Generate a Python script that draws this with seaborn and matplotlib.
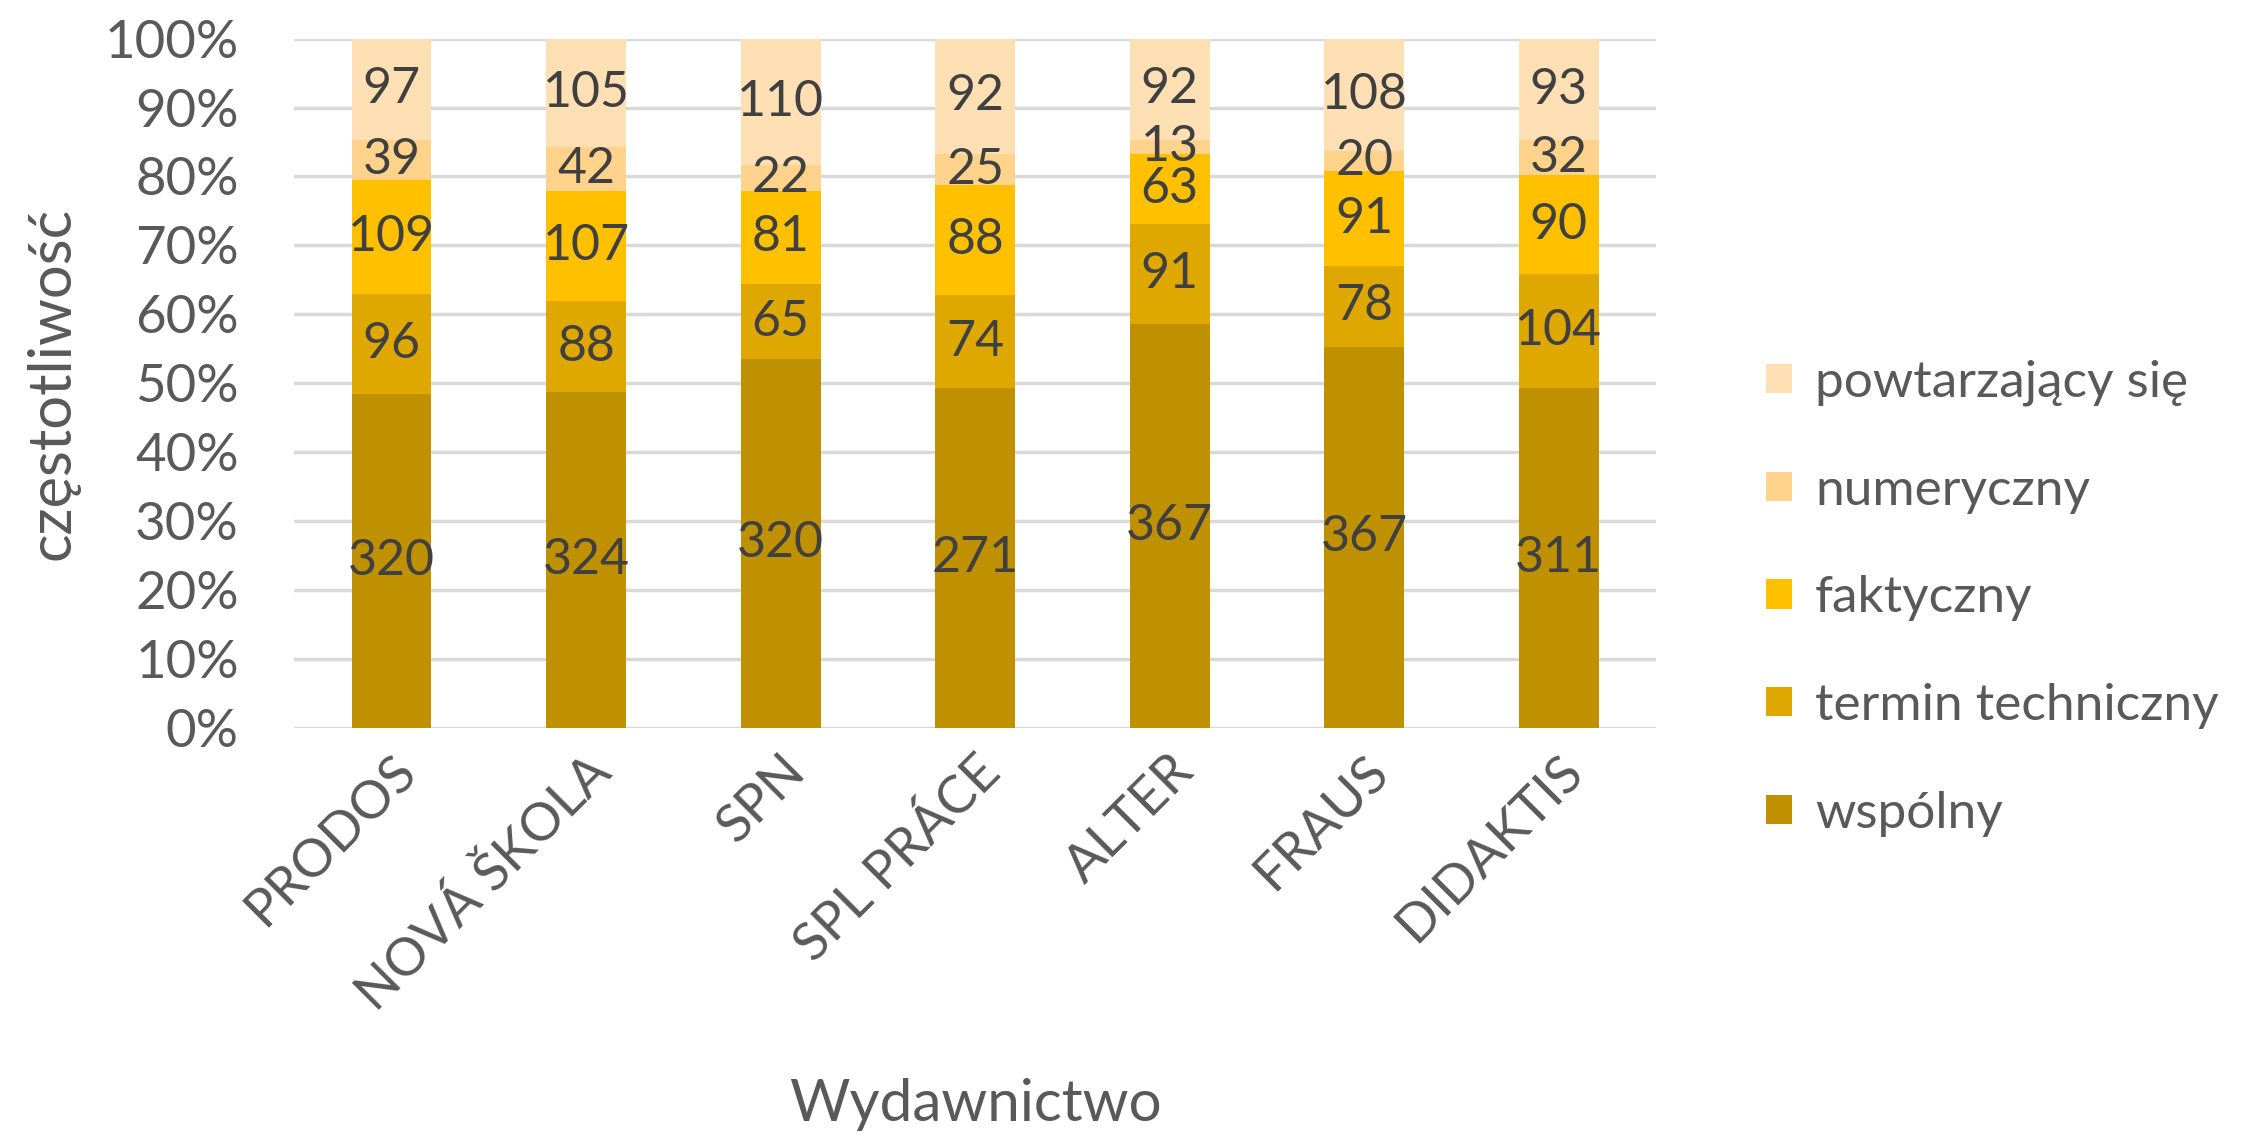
import numpy as np
import pandas as pd
import matplotlib.pyplot as plt
import seaborn as sns

sns.set_theme(style="white")
plt.rcParams['font.family'] = ['Lato', 'DejaVu Sans']

publishers = ['PRODOS', 'NOVÁ ŠKOLA', 'SPN', 'SPL PRÁCE', 'ALTER', 'FRAUS', 'DIDAKTIS']
categories = ['wspólny', 'termin techniczny', 'faktyczny', 'numeryczny', 'powtarzający się']
wspolny = [320, 324, 320, 271, 367, 367, 311]
termin = [96, 88, 65, 74, 91, 78, 104]
faktyczny = [109, 107, 81, 88, 63, 91, 90]
numeryczny = [39, 42, 22, 25, 13, 20, 32]
powtarzajacy = [97, 105, 110, 92, 92, 108, 93]
colors = ['#BF9000', '#DFA800', '#FFC000', '#FFD38C', '#FFE0B4']

counts = pd.DataFrame({
    'wspólny': wspolny,
    'termin techniczny': termin,
    'faktyczny': faktyczny,
    'numeryczny': numeryczny,
    'powtarzający się': powtarzajacy,
}, index=publishers)
share = counts.div(counts.sum(axis=1), axis=0)
cum = share.cumsum(axis=1)

fig = plt.figure(figsize=(22.47, 11.37), dpi=100)
ax = fig.add_axes([0.131, 0.360, 0.606, 0.606])

# draw tallest cumulative layer first, lower layers on top
for cat, col in reversed(list(zip(categories, colors))):
    df = pd.DataFrame({'Wydawnictwo': publishers, 'val': cum[cat].values})
    sns.barplot(data=df, x='Wydawnictwo', y='val', color=col, saturation=1,
                width=0.41, ax=ax, label=cat, zorder=2, linewidth=0, edgecolor='none')

for cat in categories:
    for i, p in enumerate(publishers):
        y = cum.loc[p, cat] - share.loc[p, cat] / 2
        ax.text(i, y, str(counts.loc[p, cat]), ha='center', va='center',
                fontsize=36, color='#404040', zorder=3)

ax.set_ylim(0, 1)
ax.set_xlim(-0.5, 6.5)
ax.set_yticks(np.arange(0, 1.01, 0.1))
ax.set_yticklabels([f'{int(round(v * 100))}%' for v in np.arange(0, 1.01, 0.1)])
ax.yaxis.grid(True, color='#D9D9D9', linewidth=2.5, zorder=0)
ax.set_axisbelow(True)
for s in ax.spines.values():
    s.set_visible(False)
ax.tick_params(axis='y', labelsize=38, labelcolor='#595959', length=0, pad=40)
ax.tick_params(axis='x', labelsize=38, labelcolor='#595959', length=0, pad=14)
plt.setp(ax.get_xticklabels(), rotation=45, ha='right', rotation_mode='anchor')
ax.set_xlabel('Wydawnictwo', fontsize=42, color='#595959', labelpad=42)
ax.set_ylabel('częstotliwość', fontsize=43, color='#595959', labelpad=18)

handles, labels = ax.get_legend_handles_labels()
leg = ax.legend(handles, labels, loc='center left', bbox_to_anchor=(0.786, 0.474),
                bbox_transform=fig.transFigure, frameon=False, fontsize=37,
                labelcolor='#595959', handlelength=0.5, handleheight=0.5,
                handletextpad=0.45, labelspacing=1.2, borderpad=0, borderaxespad=0)

fig.savefig('out.png', dpi=100)
